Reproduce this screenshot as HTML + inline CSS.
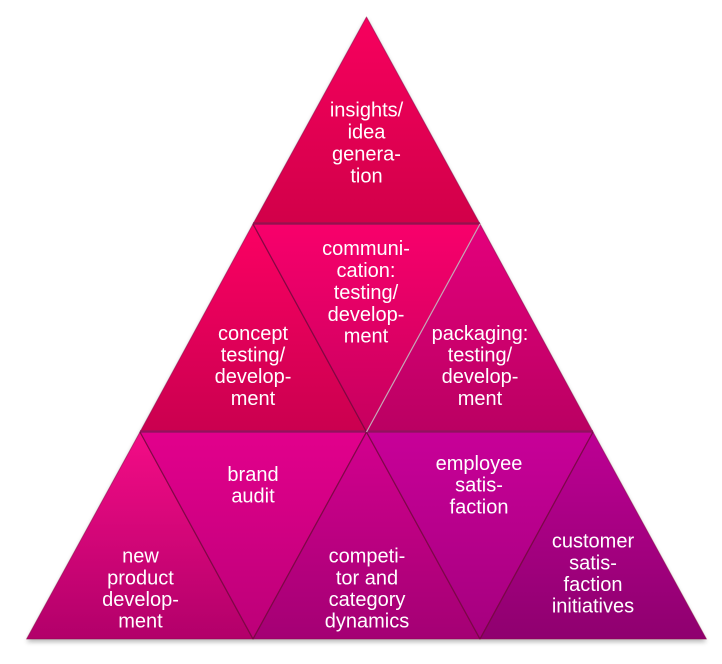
<!DOCTYPE html>
<html>
<head>
<meta charset="utf-8">
<style>
  html, body { margin: 0; padding: 0; background: #ffffff; }
  body { width: 722px; height: 664px; overflow: hidden; }
  svg { display: block; }
  text { font-family: "Liberation Sans", "DejaVu Sans", sans-serif; font-size: 20px; fill: #ffffff; text-anchor: middle; }
</style>
</head>
<body>
<svg width="722" height="664" viewBox="0 0 722 664" xmlns="http://www.w3.org/2000/svg">
  <defs>
    <linearGradient id="g1" x1="0" y1="0" x2="0" y2="1">
      <stop offset="0" stop-color="#f7005e"/><stop offset="1" stop-color="#d10049"/>
    </linearGradient>
    <linearGradient id="g2" x1="0" y1="0" x2="0" y2="1">
      <stop offset="0" stop-color="#fb0063"/><stop offset="1" stop-color="#ca004f"/>
    </linearGradient>
    <linearGradient id="g3" x1="0" y1="0" x2="0" y2="1">
      <stop offset="0" stop-color="#f8006b"/><stop offset="1" stop-color="#c6005f"/>
    </linearGradient>
    <linearGradient id="g4" x1="0" y1="0" x2="0" y2="1">
      <stop offset="0" stop-color="#e4007c"/><stop offset="1" stop-color="#ba0062"/>
    </linearGradient>
    <linearGradient id="g5" x1="0" y1="0" x2="0" y2="1">
      <stop offset="0" stop-color="#f40c86"/><stop offset="1" stop-color="#b2006a"/>
    </linearGradient>
    <linearGradient id="g6" x1="0" y1="0" x2="0" y2="1">
      <stop offset="0" stop-color="#e2008c"/><stop offset="1" stop-color="#bc0078"/>
    </linearGradient>
    <linearGradient id="g7" x1="0" y1="0" x2="0" y2="1">
      <stop offset="0" stop-color="#d3008e"/><stop offset="1" stop-color="#a40074"/>
    </linearGradient>
    <linearGradient id="g8" x1="0" y1="0" x2="0" y2="1">
      <stop offset="0" stop-color="#c80098"/><stop offset="1" stop-color="#a5007e"/>
    </linearGradient>
    <linearGradient id="g9" x1="0" y1="0" x2="0" y2="1">
      <stop offset="0" stop-color="#bd0094"/><stop offset="1" stop-color="#8f006f"/>
    </linearGradient>
    <filter id="sh" x="-10%" y="-10%" width="120%" height="130%">
      <feGaussianBlur stdDeviation="2.5"/>
    </filter>
  </defs>

  <!-- shadow -->
  <polygon points="366.5,19 26.6,642 706.4,642" fill="#000" opacity="0.28" filter="url(#sh)"/>

  <g stroke="#8a0a48" stroke-opacity="0.55" stroke-width="1" stroke-linejoin="round">
    <!-- row 1 -->
    <polygon points="366.5,17 253,224 480,224" fill="url(#g1)"/>
    <!-- row 2 -->
    <polygon points="253,224 140,432 366.5,432" fill="url(#g2)"/>
    <polygon points="253,224 480,224 366.5,432" fill="url(#g3)"/>
    <polygon points="480,224 366.5,432 593,432" fill="url(#g4)"/>
    <!-- row 3 -->
    <polygon points="140,432 26.6,639 253,639" fill="url(#g5)"/>
    <polygon points="140,432 366.5,432 253,639" fill="url(#g6)"/>
    <polygon points="366.5,432 253,639 480,639" fill="url(#g7)"/>
    <polygon points="366.5,432 593,432 480,639" fill="url(#g8)"/>
    <polygon points="593,432 480,639 706.4,639" fill="url(#g9)"/>
  </g>

  <!-- row separators -->
  <line x1="253" y1="223.5" x2="480" y2="223.5" stroke="#8e1450" stroke-width="2.5" opacity="0.8"/>
  <line x1="140" y1="431.5" x2="593" y2="431.5" stroke="#8e1460" stroke-width="2.5" opacity="0.8"/>
  <!-- diagonal dark seams -->
  <g stroke="#6a0838" stroke-width="1.3" opacity="0.6">
    <line x1="253" y1="224" x2="366.5" y2="432"/>
    <line x1="140" y1="432" x2="253" y2="639"/>
    <line x1="366.5" y1="432" x2="253" y2="639"/>
    <line x1="366.5" y1="432" x2="480" y2="639"/>
    <line x1="593" y1="432" x2="480" y2="639"/>
  </g>
  <!-- light gap -->
  <line x1="480" y1="224" x2="366.5" y2="432" stroke="#c8a8b8" stroke-width="1.2"/>

  <!-- labels -->
  <text x="366.5" y="116.5">insights/</text>
  <text x="366.5" y="138.3">idea</text>
  <text x="366.5" y="160.5">genera-</text>
  <text x="366.5" y="182.5">tion</text>

  <text x="366" y="255">communi-</text>
  <text x="366" y="277">cation:</text>
  <text x="366" y="299">testing/</text>
  <text x="366" y="321">develop-</text>
  <text x="366" y="342.5">ment</text>

  <text x="253" y="340">concept</text>
  <text x="253" y="361.5">testing/</text>
  <text x="253" y="383">develop-</text>
  <text x="253" y="405">ment</text>

  <text x="480" y="340">packaging:</text>
  <text x="480" y="361.5">testing/</text>
  <text x="480" y="383">develop-</text>
  <text x="480" y="405">ment</text>

  <text x="253" y="481">brand</text>
  <text x="253" y="502.7">audit</text>

  <text x="479" y="470">employee</text>
  <text x="479" y="491.7">satis-</text>
  <text x="479" y="513.3">faction</text>

  <text x="140.5" y="562.7">new</text>
  <text x="140.5" y="584.3">product</text>
  <text x="140.5" y="606">develop-</text>
  <text x="140.5" y="627.7">ment</text>

  <text x="367" y="562.7">competi-</text>
  <text x="367" y="584.3">tor and</text>
  <text x="367" y="606">category</text>
  <text x="367" y="627.7">dynamics</text>

  <text x="593" y="547.7">customer</text>
  <text x="593" y="569.3">satis-</text>
  <text x="593" y="591">faction</text>
  <text x="593" y="612.7">initiatives</text>
</svg>
</body>
</html>
